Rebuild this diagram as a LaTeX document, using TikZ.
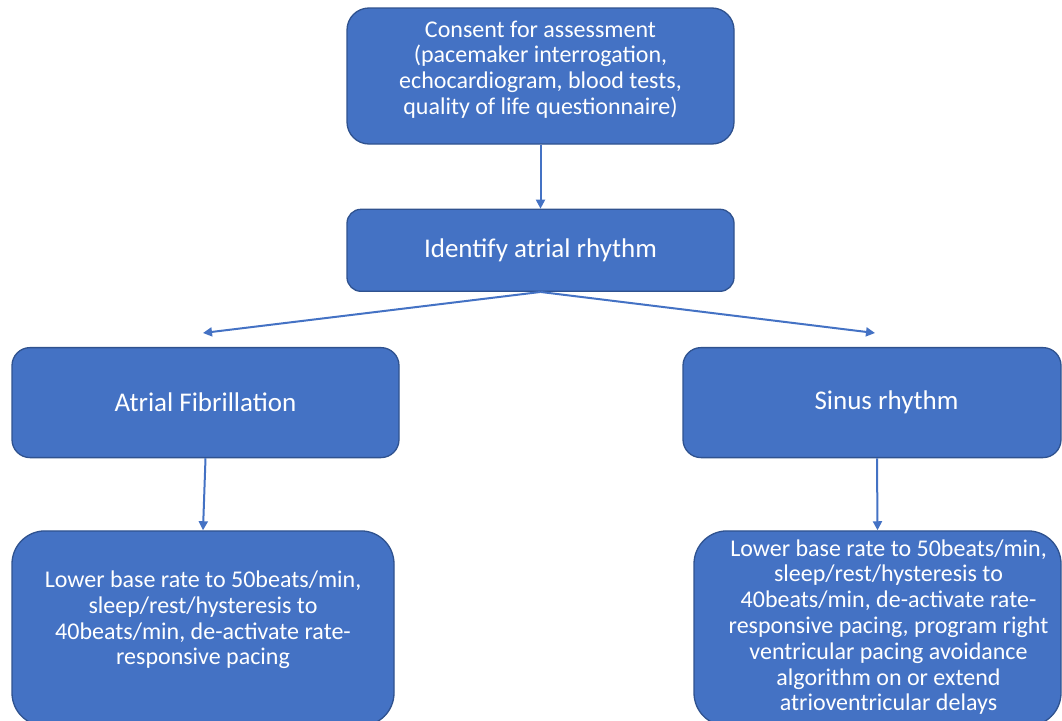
\documentclass[tikz,border=0pt]{standalone}
\usepackage{fontspec}
\setmainfont{Carlito}
\usetikzlibrary{positioning, arrows.meta}
\definecolor{boxblue}{HTML}{4472C4}
\definecolor{boxedge}{HTML}{2F528F}

\begin{document}
\begin{tikzpicture}[ stepbox/.style={rectangle, fill=boxblue, draw=boxedge, line width=1.3pt, text=white, align=center, inner sep=0pt},
 flow/.style={->, >={Triangle[length=9pt,width=9pt]}, draw=boxblue, line width=2pt}]
\clip (0,0) rectangle (1062pt,-720pt);
\node[stepbox, minimum width=387pt, minimum height=136pt, rounded corners=22pt, text depth=17pt, font=\fontsize{24}{25.8}\selectfont]  (consent)  at (540.5pt,-76pt)
  {Consent for assessment\\(pacemaker interrogation,\\echocardiogram, blood tests,\\quality of life questionnaire)};
\node[stepbox, minimum width=387pt, minimum height=82pt, rounded corners=14pt, font=\fontsize{27}{32}\selectfont]   (identify) [below=64pt of consent] {Identify atrial rhythm};
\node[stepbox, minimum width=387pt, minimum height=110pt, rounded corners=18pt, font=\fontsize{27}{32}\selectfont]  (af)       [below=55pt of identify, xshift=-335pt] {Atrial Fibrillation};
\node[stepbox, minimum width=378pt, minimum height=110pt, rounded corners=18pt, font=\fontsize{27}{32}\selectfont]  (sinus)    [below=55pt of identify, xshift=331.5pt] {\hspace*{29pt}Sinus rhythm};
\node[stepbox, minimum width=382pt, minimum height=195pt, rounded corners=33pt, text depth=21pt, font=\fontsize{24}{25.8}\selectfont]  (afplan)   [below=72pt of af, xshift=-2.5pt]
  {Lower base rate to 50beats/min,\\sleep/rest/hysteresis to\\40beats/min, de-activate rate-\\responsive pacing};
\node[stepbox, minimum width=367pt, minimum height=195pt, rounded corners=33pt, font=\fontsize{24}{25.8}\selectfont]  (srplan)   [below=72pt of sinus, xshift=5.5pt]
  {\hspace*{22pt}\begin{tabular}{@{}c@{}}Lower base rate to 50beats/min,\\sleep/rest/hysteresis to\\40beats/min, de-activate rate-\\responsive pacing, program right\\ventricular pacing avoidance\\algorithm on or extend\\atrioventricular delays\end{tabular}};
\coordinate (afin) at (203pt,-333pt);
\coordinate (srin) at (875pt,-333pt);
\draw[flow] (consent) to (identify);
\draw[flow] (identify.south) to (afin);
\draw[flow] (identify.south) to (srin);
\draw[flow] (af.south) to (afplan.north);
\draw[flow] ([xshift=5pt]sinus.south) to (srplan.north);
\end{tikzpicture}
\end{document}
